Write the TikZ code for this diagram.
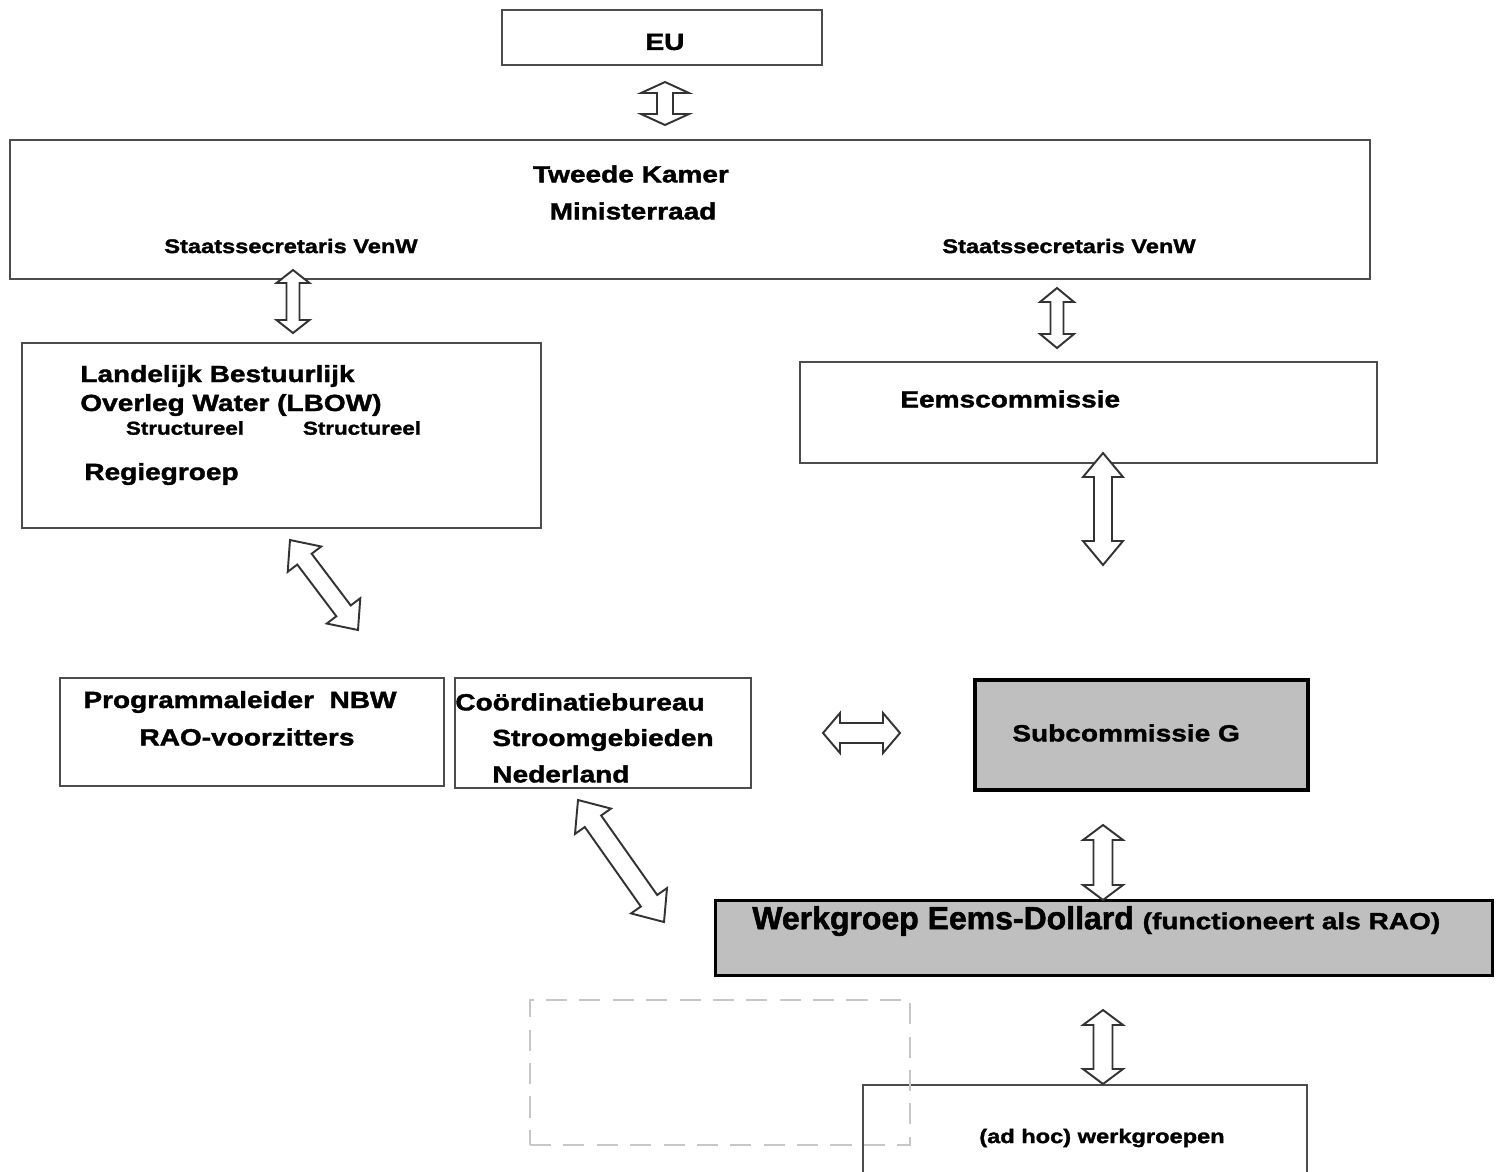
\documentclass[tikz,border=0pt]{standalone}
\usepackage{fontspec}
\setmainfont{Liberation Sans}
\newfontfamily\wide[FakeStretch=1.2,FakeBold=1.6]{Liberation Sans Bold}
\newfontfamily\heavy[FakeBold=1.6]{Liberation Sans Bold}
\usetikzlibrary{calc,fit}

% block double arrow between two named coordinates:
% #1 from, #2 to, #3 shaft half-width (px), #4 head half-width (px), #5 head length (px)
\newcommand{\blockarrow}[5]{%
  \pgfmathsetlengthmacro\bsw{#3*0.02cm}%
  \pgfmathsetlengthmacro\bhw{#4*0.02cm}%
  \pgfmathsetlengthmacro\bhl{#5*0.02cm}%
  \draw[blk] (#1)
    -- ($(#1)!\bhl!(#2)!\bhw!90:(#2)$)
    -- ($(#1)!\bhl!(#2)!\bsw!90:(#2)$)
    -- ($(#2)!\bhl!(#1)!\bsw!-90:(#1)$)
    -- ($(#2)!\bhl!(#1)!\bhw!-90:(#1)$)
    -- (#2)
    -- ($(#2)!\bhl!(#1)!\bhw!90:(#1)$)
    -- ($(#2)!\bhl!(#1)!\bsw!90:(#1)$)
    -- ($(#1)!\bhl!(#2)!\bsw!-90:(#2)$)
    -- ($(#1)!\bhl!(#2)!\bhw!-90:(#2)$)
    -- cycle;}

\begin{document}
\begin{tikzpicture}[x=0.02cm,y=-0.02cm,
  box/.style={draw=black!70, line width=1.2pt, inner sep=0pt, fill=white},
  graybox/.style={draw=black, inner sep=0pt, fill=black!25},
  lbl/.style={inner sep=0pt, font=\wide\fontsize{13.3}{15}\selectfont},
  sml/.style={inner sep=0pt, font=\wide\fontsize{11.2}{13}\selectfont},
  tny/.style={inner sep=0pt, font=\wide\fontsize{10.6}{12}\selectfont},
  blk/.style={draw=black!80, line width=1.1pt, fill=white, line join=miter}]
\useasboundingbox (0,0) rectangle (1497,1171);
\clip (0,0) rectangle (1497,1171);

% EU
\node[box, fit={(502,10)(822,65)}] (eu) {};
\node[lbl] (eut) at (665,42) {EU};

% Tweede Kamer
\node[box, fit={(10,140)(1370,279)}] (tk) {};
\node[lbl] (tk1) at (631,174) {Tweede Kamer};
\node[lbl] (tk2) at (633,211) {Ministerraad};
\node[sml] (ss1) at (291,246) {Staatssecretaris VenW};
\node[sml] (ss2) at (1069,246) {Staatssecretaris VenW};

% LBOW
\node[box, fit={(22,343)(541,528)}] (lbow) {};
\node[lbl, anchor=west] (lb1) at (80,376) {Landelijk Bestuurlijk};
\node[lbl, anchor=west] (lb2) at (80,405) {Overleg Water (LBOW)};
\node[tny] (st1) at (185,428) {Structureel};
\node[tny] (st2) at (362,428) {Structureel};
\node[lbl, anchor=west] (rg) at (84,474) {Regiegroep};

% Eemscommissie
\node[box, fit={(800,362)(1377,463)}] (eems) {};
\node[lbl, anchor=west] (eemst) at (900,399) {Eemscommissie};

% Programmaleider
\node[box, fit={(60,678)(444,786)}] (prog) {};
\node[lbl] (pr1) at (240,702) {Programmaleider\ \ NBW};
\node[lbl] (pr2) at (247,737) {RAO-voorzitters};

% Coordinatiebureau
\node[box, fit={(455,678)(751,788)}] (coord) {};
\node[lbl, anchor=west] (co1) at (455,702) {Coördinatiebureau};
\node[lbl, anchor=west] (co2) at (492,740) {Stroomgebieden};
\node[lbl, anchor=west] (co3) at (492,774) {Nederland};

% Subcommissie G
\node[graybox, line width=2.8pt, fit={(975,680)(1308,790)}] (sub) {};
\node[lbl, anchor=west] (subt) at (1012,733) {Subcommissie G};

% Werkgroep
\node[graybox, line width=1.7pt, fit={(715,900)(1492,975)}] (werk) {};
\node[inner sep=0pt, anchor=west] (werkt) at (752,921)
  {\heavy\fontsize{18.2}{20}\selectfont Werkgroep Eems-Dollard
   {\wide\fontsize{13.3}{15}\selectfont (functioneert als RAO)}};

% ad hoc werkgroepen
\node[box, fit={(863,1085)(1307,1200)}] (adhoc) {};
\node[sml] (adhoct) at (1102,1138) {(ad hoc) werkgroepen};

% dashed light box
\node[draw=black!22, line width=1.3pt, dash pattern=on 12pt off 7pt, inner sep=0pt,
      fit={(530,1000)(910,1145)}] (dash) {};

% arrow end points
\coordinate (a1) at (665,82);   \coordinate (b1) at (665,125);
\coordinate (a2) at (293,270);  \coordinate (b2) at (293,333);
\coordinate (a3) at (1057,288); \coordinate (b3) at (1057,348);
\coordinate (a4) at (1103,453); \coordinate (b4) at (1103,565);
\coordinate (a5) at (290,540);  \coordinate (b5) at (358,630);
\coordinate (a6) at (823,733);  \coordinate (b6) at (900,733);
\coordinate (a7) at (1103,825); \coordinate (b7) at (1103,900);
\coordinate (a8) at (578,800);  \coordinate (b8) at (664,922);
\coordinate (a9) at (1103,1010);\coordinate (b9) at (1103,1084);

\blockarrow{a1}{b1}{8}{24}{11}
\blockarrow{a2}{b2}{6.5}{16.5}{13}
\blockarrow{a3}{b3}{6.5}{17}{14}
\blockarrow{a4}{b4}{9}{20}{24}
\blockarrow{a5}{b5}{9}{21}{24}
\blockarrow{a6}{b6}{10}{20}{17}
\blockarrow{a7}{b7}{9.5}{20}{15}
\blockarrow{a8}{b8}{10}{22}{26}
\blockarrow{a9}{b9}{9.5}{20}{15}
\end{tikzpicture}
\end{document}
